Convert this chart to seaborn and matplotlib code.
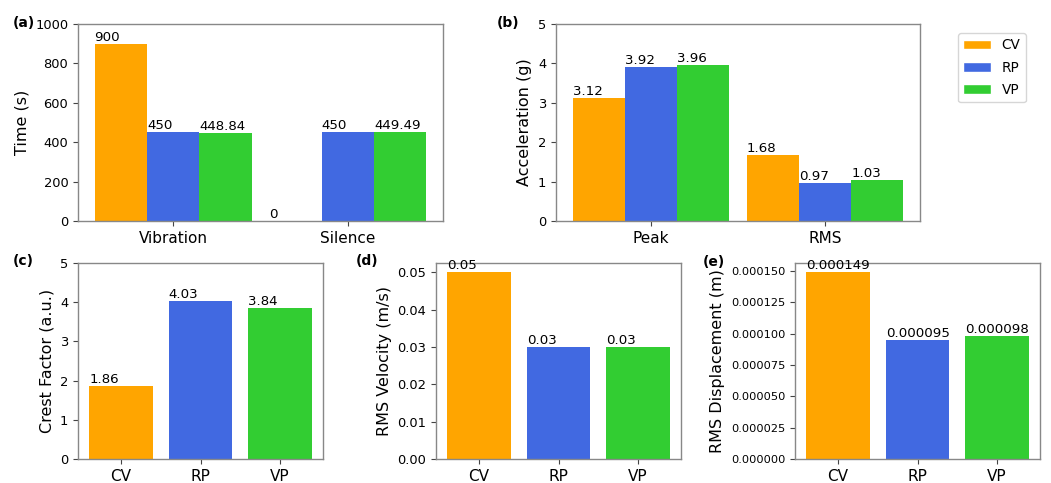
import matplotlib
matplotlib.use("Agg")
import matplotlib.pyplot as plt
import seaborn as sns
import pandas as pd
import numpy as np
from matplotlib.patches import Patch
from matplotlib.ticker import FormatStrFormatter

sns.set_style("white")
plt.rcParams['font.family'] = ['DejaVu Sans']
plt.rcParams['text.color'] = 'black'
plt.rcParams['axes.labelcolor'] = 'black'
plt.rcParams['xtick.color'] = 'black'
plt.rcParams['ytick.color'] = 'black'

# ---- data ----
series = ["CV", "RP", "VP"]
colors = ["#FFA500", "#4169E1", "#32CD32"]

time_cats = ["Vibration", "Silence"]
time_vals = {"CV": [900, 0], "RP": [450, 450], "VP": [448.84, 449.49]}
time_text = {"CV": ["900", "0"], "RP": ["450", "450"], "VP": ["448.84", "449.49"]}

acc_cats = ["Peak", "RMS"]
acc_vals = {"CV": [3.12, 1.68], "RP": [3.92, 0.97], "VP": [3.96, 1.03]}

crest_vals = [1.86, 4.03, 3.84]
vel_vals = [0.05, 0.03, 0.03]
disp_vals = [0.000149, 0.000095, 0.000098]
disp_ticks = [0.0, 0.000025, 0.00005, 0.000075, 0.0001, 0.000125, 0.00015]

W, H = 1051, 483
fig = plt.figure(figsize=(W / 100, H / 100), dpi=100)

def px_axes(l, t, r, b):
    return fig.add_axes([l / W, 1 - b / H, (r - l) / W, (b - t) / H])

ax_a = px_axes(78, 24, 443, 221)
ax_b = px_axes(556, 24, 920, 221)
ax_c = px_axes(78, 263, 323, 459)
ax_d = px_axes(436, 263, 681, 459)
ax_e = px_axes(795, 263, 1040, 459)

pal = dict(zip(series, colors))

def grouped(ax, cats, vals, texts):
    df = pd.DataFrame([(c, s, vals[s][i]) for s in series for i, c in enumerate(cats)],
                      columns=["cat", "series", "val"])
    sns.barplot(data=df, x="cat", y="val", hue="series", hue_order=series, order=cats,
                palette=pal, saturation=1, ax=ax, legend=False, linewidth=0, width=0.9)
    for s, cont in zip(series, ax.containers):
        for i, p in enumerate(cont.patches):
            ax.text(p.get_x(), p.get_height(), texts[s][i], ha="left", va="bottom", fontsize=9.6)
    ax.set_xlim(-0.545, 1.545)

def single(ax, vals, texts):
    df = pd.DataFrame({"cat": series, "val": vals})
    sns.barplot(data=df, x="cat", y="val", hue="cat", palette=pal, saturation=1,
                ax=ax, legend=False, linewidth=0, order=series)
    for cont, t in zip(ax.containers, texts):
        for p in cont.patches:
            ax.text(p.get_x(), p.get_height(), t, ha="left", va="bottom", fontsize=9.6)
    ax.set_xlim(-0.54, 2.54)

grouped(ax_a, time_cats, time_vals, time_text)
ax_a.set_ylim(0, 1000)
ax_a.set_ylabel("Time (s)")

acc_text = {s: [f"{v:.2f}" for v in acc_vals[s]] for s in series}
grouped(ax_b, acc_cats, acc_vals, acc_text)
ax_b.set_ylim(0, 5)
ax_b.set_ylabel("Acceleration (g)")

single(ax_c, crest_vals, [f"{v:.2f}" for v in crest_vals])
ax_c.set_ylim(0, 5)
ax_c.set_ylabel("Crest Factor (a.u.)")

single(ax_d, vel_vals, [f"{v:.2f}" for v in vel_vals])
ax_d.set_ylim(0, max(vel_vals) * 1.05)
ax_d.set_ylabel("RMS Velocity (m/s)")

single(ax_e, disp_vals, [f"{v:.6f}" for v in disp_vals])
ax_e.set_ylim(0, max(disp_vals) * 1.05)
ax_e.set_yticks(disp_ticks)
ax_e.yaxis.set_major_formatter(FormatStrFormatter("%.6f"))
ax_e.set_ylabel("RMS Displacement (m)")

for ax in [ax_a, ax_b, ax_c, ax_d, ax_e]:
    ax.set_xlabel("")
    for sp in ax.spines.values():
        sp.set_color("#888888")
        sp.set_linewidth(1.0)
    ax.tick_params(axis="both", which="both", left=True, bottom=True, length=3.5,
                   width=0.8, color="#444444")
    ax.tick_params(axis="x", labelsize=11)
    ax.tick_params(axis="y", labelsize=9.4)
    ax.yaxis.label.set_size(11.5)
ax_e.tick_params(axis="y", labelsize=8.2)

for lab, x, y in [("(a)", 13, 23), ("(b)", 497, 23), ("(c)", 13, 261),
                  ("(d)", 356, 261), ("(e)", 703, 262)]:
    fig.text(x / W, 1 - y / H, lab, fontsize=10, fontweight="bold", ha="left", va="center")

handles = [Patch(facecolor=c, label=s) for s, c in zip(series, colors)]
fig.legend(handles=handles, loc="upper left", bbox_to_anchor=(958 / W, 1 - 33 / H),
           fontsize=9.8, frameon=True, borderaxespad=0, labelspacing=0.6)

fig.savefig("out.png", dpi=100)
